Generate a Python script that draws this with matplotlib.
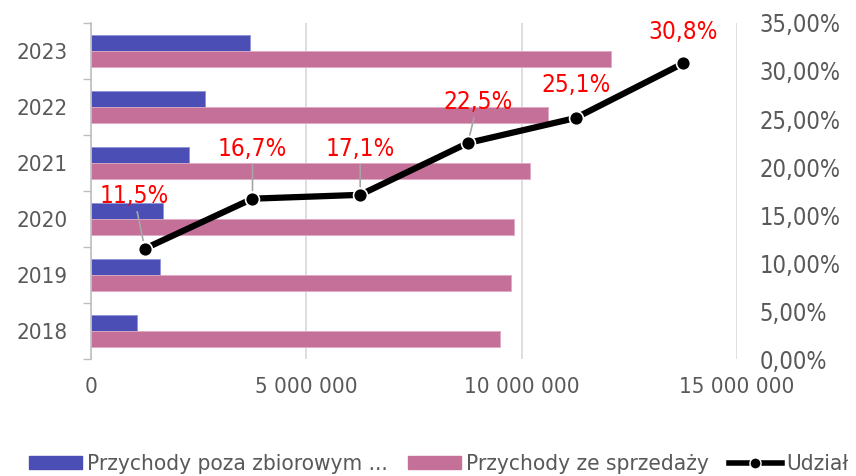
import matplotlib
matplotlib.use('Agg')
import matplotlib.pyplot as plt
from matplotlib.patches import Patch
from matplotlib.lines import Line2D
from matplotlib import font_manager
import numpy as np

# ---------------- data ----------------
years = ['2018', '2019', '2020', '2021', '2022', '2023']
poza = [1075000, 1610000, 1670000, 2280000, 2650000, 3700000]
sprzedaz = [9500000, 9750000, 9820000, 10200000, 10620000, 12080000]
udzial = [11.5, 16.7, 17.1, 22.5, 25.1, 30.8]
udzial_labels = ['11,5%', '16,7%', '17,1%', '22,5%', '25,1%', '30,8%']
x_ticks = [0, 5000000, 10000000, 15000000]
x_tick_labels = ['0', '5 000 000', '10 000 000', '15 000 000']
pct_ticks = [0, 5, 10, 15, 20, 25, 30, 35]
pct_tick_labels = ['0,00%', '5,00%', '10,00%', '15,00%', '20,00%', '25,00%', '30,00%', '35,00%']
series_names = ['Przychody poza zbiorowym ...', 'Przychody ze sprzedaży', 'Udział']

# label placement (pixel offsets from point) and leader-line flags
lbl_off = [(-11, 53), (0, 50), (0, 46), (10, 41), (1, 33), (0, 31)]
leader = [True, True, True, True, False, False]

BLUE = '#4B4FB5'
PINK = '#C47099'
TXT = '#595959'
GRID = '#D9D9D9'

# font: DejaVu Sans Condensed if available
fam = 'DejaVu Sans'
stretch = 'condensed'
try:
    fp = font_manager.findfont(font_manager.FontProperties(family=fam, stretch='condensed'),
                               fallback_to_default=False)
    if 'Condensed' not in fp:
        stretch = 'normal'
except Exception:
    stretch = 'normal'
plt.rcParams['font.family'] = fam
plt.rcParams['font.stretch'] = stretch

fig = plt.figure(figsize=(8.56, 4.76), dpi=100)
pos = [91/856, (476-359)/476, (737-91)/856, (359-23)/476]
ax = fig.add_axes(pos)

y = np.arange(len(years))
bh = 0.285
ax.barh(y + bh/2, poza, height=bh, color=BLUE, edgecolor='#8F92D6', linewidth=0.6, zorder=2)
ax.barh(y - bh/2, sprzedaz, height=bh, color=PINK, edgecolor='#DDA9C3', linewidth=0.6, zorder=2)

ax.set_xlim(0, 15000000)
ax.set_ylim(-0.5, len(years) - 0.5)
ax.set_xticks(x_ticks)
ax.set_xticklabels(x_tick_labels, fontsize=16, color=TXT)
ax.tick_params(axis='x', length=0, pad=13)
ax.xaxis.grid(True, color=GRID, linewidth=1.2, zorder=0)
ax.set_axisbelow(True)

ax.set_yticks(np.arange(len(years) + 1) - 0.5)
ax.set_yticklabels([])
ax.set_yticks(y, minor=True)
ax.set_yticklabels(years, minor=True, fontsize=16, color=TXT)
ax.tick_params(axis='y', which='major', length=6, color='#BFBFBF', width=1)
ax.tick_params(axis='y', which='minor', length=0, pad=17)

for s in ['top', 'right', 'bottom']:
    ax.spines[s].set_visible(False)
ax.spines['left'].set_color('#BFBFBF')
ax.spines['left'].set_linewidth(1.2)

# secondary axes for the line
ax2 = fig.add_axes(pos, frameon=False)
xi = np.arange(len(udzial))
ax2.plot(xi, udzial, color='black', linewidth=4.5, marker='o', markersize=10,
         markerfacecolor='black', markeredgecolor='white', markeredgewidth=1.2, zorder=3)
ax2.set_xlim(-0.5, len(udzial) - 0.5)
ax2.set_ylim(0, 35)
ax2.set_xticks([])
ax2.yaxis.tick_right()
ax2.set_yticks(pct_ticks)
ax2.set_yticklabels(pct_tick_labels, fontsize=17, color=TXT)
ax2.tick_params(axis='y', length=0, pad=16)

for i, (v, t) in enumerate(zip(udzial, udzial_labels)):
    ap = None
    if leader[i]:
        ap = dict(arrowstyle='-', color='#A6A6A6', linewidth=1.2, shrinkA=1, shrinkB=6)
    ax2.annotate(t, xy=(i, v), xytext=lbl_off[i], textcoords='offset pixels',
                 ha='center', va='center', fontsize=17.5, color='#FF0000',
                 arrowprops=ap, zorder=4)

handles = [Patch(facecolor=BLUE, edgecolor=BLUE),
           Patch(facecolor=PINK, edgecolor=PINK),
           Line2D([0], [0], color='black', linewidth=4, marker='o', markersize=8,
                  markerfacecolor='black', markeredgecolor='white')]
fig.legend(handles, series_names, loc='center left', bbox_to_anchor=(29/856, 1 - 464.5/476),
           ncol=3, frameon=False, fontsize=16.2, handlelength=2.35, handleheight=0.55,
           handletextpad=0.22, columnspacing=0.9, labelcolor=TXT, borderaxespad=0,
           borderpad=0)

fig.savefig('out.png', dpi=100)
